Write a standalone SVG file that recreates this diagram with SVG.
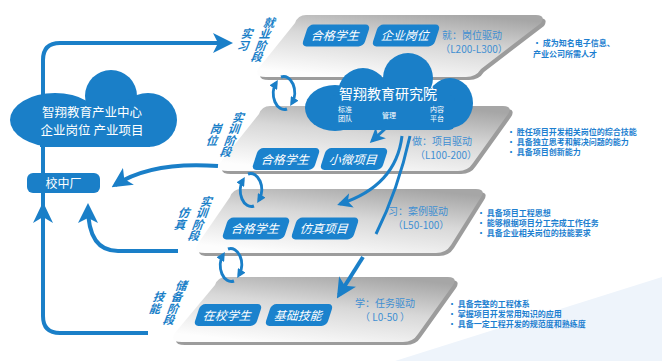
<svg xmlns="http://www.w3.org/2000/svg" width="662" height="361" viewBox="0 0 662 361">
<style>
.cjk{font-family:"Noto Sans CJK SC","Noto Sans",sans-serif}
.pill rect{fill:#1a82cd}
.pill text{fill:#fff;font-size:12px;text-anchor:middle;font-family:"Noto Sans CJK SC",sans-serif}
.plat{fill:url(#pg)}
.shadow{fill:#9c9c9c}
.drv{fill:#3f8fd2;font-size:10px;font-family:"Noto Sans CJK SC",sans-serif}
.rng{fill:#3f8fd2;font-size:10px;text-anchor:middle;font-family:"Noto Sans CJK SC",sans-serif}
.bul{fill:#1d7fd0;font-size:8px;font-weight:bold;font-family:"Noto Sans CJK SC",sans-serif}
.stg{fill:#1a7fc8;font-size:11.5px;font-weight:bold;text-anchor:middle;font-family:"Noto Sans CJK SC",sans-serif}
.ln{fill:none;stroke:#1a7fc8;stroke-width:4}
.ln3{fill:none;stroke:#1a7fc8;stroke-width:3}
.cyc{fill:none;stroke:#1a7fc8;stroke-width:3}
.cloud{fill:#1a7fc8}
</style>
<defs>
<linearGradient id="pg" x1="0.75" y1="0" x2="0.3" y2="1">
<stop offset="0" stop-color="#a6a6a6"/>
<stop offset="0.45" stop-color="#d8d8d8"/>
<stop offset="1" stop-color="#fdfdfd"/>
</linearGradient>
<marker id="ah" markerUnits="userSpaceOnUse" markerWidth="20" markerHeight="20" viewBox="0 0 20 20" refX="16" refY="10" orient="auto">
<path d="M0,0 L20,10 L0,20 L5,10 Z" fill="#1a7fc8"/>
</marker>
<marker id="am" markerUnits="userSpaceOnUse" markerWidth="15" markerHeight="15" viewBox="0 0 20 20" refX="16" refY="10" orient="auto">
<path d="M0,0 L20,10 L0,20 L5,10 Z" fill="#1a7fc8"/>
</marker>
<marker id="as" markerUnits="userSpaceOnUse" markerWidth="9" markerHeight="9" viewBox="0 0 20 20" refX="12" refY="10" orient="auto">
<path d="M0,0 L20,10 L0,20 Z" fill="#1a7fc8"/>
</marker>
</defs>
<rect width="662" height="361" fill="#ffffff"/>
<polygon points="395,361 662,277 662,361" fill="#eef4fb"/>

<g id="stage-bottom">
<path class="shadow" transform="translate(3,3)" d="M226,277 L448,277 Q458,277 453,285 L418,334 Q413,342 403,342 L182,342 Q170,342 174,334 L215,285 Q218,277 226,277 Z"/>
<path class="plat" d="M226,277 L448,277 Q458,277 453,285 L418,334 Q413,342 403,342 L182,342 Q170,342 174,334 L215,285 Q218,277 226,277 Z"/>
<g class="pill" transform="translate(228,315) skewX(-18)"><rect x="-31" y="-11" width="62" height="22" rx="5"/><text y="4.5">在校学生</text></g>
<g class="pill" transform="translate(299,315) skewX(-18)"><rect x="-31" y="-11" width="62" height="22" rx="5"/><text y="4.5">基础技能</text></g>
<text class="drv" x="355" y="307">学：任务驱动</text>
<text class="rng" x="385" y="321">（ L0-50 ）</text>
<g class="stg" transform="translate(182,286) skewX(-20)"><text><tspan x="0" y="4">储</tspan><tspan x="0" y="15.5">备</tspan><tspan x="0" y="27">阶</tspan><tspan x="0" y="38.5">段</tspan><tspan x="-18" y="15.5">技</tspan><tspan x="-18" y="27">能</tspan></text></g>
<text class="bul" x="448" y="307">· 具备完整的工程体系</text>
<text class="bul" x="448" y="317">· 掌握项目开发常用知识的应用</text>
<text class="bul" x="448" y="327">·  具备一定工程开发的规范度和熟练度</text>
</g>

<g id="stage-sim">
<path class="shadow" transform="translate(3,3)" d="M241,189 L476,189 Q486,189 481,197 L451,245 Q446,253 436,253 L205,253 Q193,253 197,245 L230,197 Q233,189 241,189 Z"/>
<path class="plat" d="M241,189 L476,189 Q486,189 481,197 L451,245 Q446,253 436,253 L205,253 Q193,253 197,245 L230,197 Q233,189 241,189 Z"/>
<g class="pill" transform="translate(256,228.5) skewX(-18)"><rect x="-31" y="-11" width="62" height="22" rx="5"/><text y="4.5">合格学生</text></g>
<g class="pill" transform="translate(325,228.5) skewX(-18)"><rect x="-31" y="-11" width="62" height="22" rx="5"/><text y="4.5">仿真项目</text></g>
<text class="drv" x="388" y="215">习：案例驱动</text>
<text class="rng" x="421" y="229">（L50-100）</text>
<g class="stg" transform="translate(207,202) skewX(-20)"><text><tspan x="0" y="4">实</tspan><tspan x="0" y="15.5">训</tspan><tspan x="0" y="27">阶</tspan><tspan x="0" y="38.5">段</tspan><tspan x="-18" y="15.5">仿</tspan><tspan x="-18" y="27">真</tspan></text></g>
<text class="bul" x="477" y="216">· 具备项目工程思想</text>
<text class="bul" x="477" y="226">· 能够根据项目分工完成工作任务</text>
<text class="bul" x="477" y="236">· 具备企业相关岗位的技能要求</text>
</g>

<g id="stage-post">
<path class="shadow" transform="translate(3,3)" d="M270,106 L503,106 Q513,106 508,114 L473,163 Q468,171 458,171 L228,171 Q216,171 220,163 L259,114 Q262,106 270,106 Z"/>
<path class="plat" d="M270,106 L503,106 Q513,106 508,114 L473,163 Q468,171 458,171 L228,171 Q216,171 220,163 L259,114 Q262,106 270,106 Z"/>
<g class="pill" transform="translate(286,159) skewX(-18)"><rect x="-31" y="-11" width="62" height="22" rx="5"/><text y="4.5">合格学生</text></g>
<g class="pill" transform="translate(354,159) skewX(-18)"><rect x="-31" y="-11" width="62" height="22" rx="5"/><text y="4.5">小微项目</text></g>
<text class="drv" x="412" y="145">做：项目驱动</text>
<text class="rng" x="446" y="159">（L100-200）</text>
<g class="stg" transform="translate(239,118) skewX(-20)"><text><tspan x="0" y="4">实</tspan><tspan x="0" y="15.5">训</tspan><tspan x="0" y="27">阶</tspan><tspan x="0" y="38.5">段</tspan><tspan x="-18" y="15.5">岗</tspan><tspan x="-18" y="27">位</tspan></text></g>
<text class="bul" x="507" y="135">· 胜任项目开发相关岗位的综合技能</text>
<text class="bul" x="507" y="145">· 具备独立思考和解决问题的能力</text>
<text class="bul" x="507" y="155">· 具备项目创新能力</text>
</g>

<g id="stage-job">
<path class="shadow" transform="translate(3,3)" d="M306,15 L536,15 Q546,15 541,23 L481,69 Q476,77 466,77 L266,77 Q254,77 258,69 L295,23 Q298,15 306,15 Z"/>
<path class="plat" d="M306,15 L536,15 Q546,15 541,23 L481,69 Q476,77 466,77 L266,77 Q254,77 258,69 L295,23 Q298,15 306,15 Z"/>
<g class="pill" transform="translate(336,35.5) skewX(-18)"><rect x="-31" y="-11" width="62" height="22" rx="5"/><text y="4.5">合格学生</text></g>
<g class="pill" transform="translate(406,35.5) skewX(-18)"><rect x="-31" y="-11" width="62" height="22" rx="5"/><text y="4.5">企业岗位</text></g>
<text class="drv" x="442" y="39">就：岗位驱动</text>
<text class="rng" x="474" y="53">（L200-L300）</text>
<g class="stg" transform="translate(270,23) skewX(-20)"><text><tspan x="0" y="4">就</tspan><tspan x="0" y="15.5">业</tspan><tspan x="0" y="27">阶</tspan><tspan x="0" y="38.5">段</tspan><tspan x="-18" y="15.5">实</tspan><tspan x="-18" y="27">习</tspan></text></g>
<text class="bul" x="533" y="46">· 成为知名电子信息、</text>
<text class="bul" x="533" y="57">产业公司所需人才</text>
</g>

<g id="connectors">
<path class="ln" d="M148,333 L60,333 Q43,333 43,316 L43,60 Q43,43 60,43 L229,43" marker-end="url(#ah)"/>
<polygon points="43,202 33,223 43,217 53,223" fill="#1a7fc8"/>
<path class="ln" d="M218,166 Q152,161 115,185" marker-end="url(#ah)"/>
<path class="ln" d="M178,251 L118,251 Q88,251 88,207" marker-end="url(#ah)"/>
<path class="ln3" d="M386,128 L372,141" marker-end="url(#am)"/>
<path class="ln3" d="M402,136 Q396,186 340,204" marker-end="url(#am)"/>
<path class="ln3" d="M410,136 Q398,190 376,234"/>
<path class="ln" d="M363,257 L339,295" marker-end="url(#ah)"/>
<g transform="translate(284,93)">
<path class="cyc" d="M3,16 A11,16 0 0 1 -8,-10" marker-end="url(#as)"/>
<path class="cyc" d="M-3,-16 A11,16 0 0 1 8,10" marker-end="url(#as)"/>
</g>
<g transform="translate(251,190)">
<path class="cyc" d="M3,16 A11,16 0 0 1 -8,-10" marker-end="url(#as)"/>
<path class="cyc" d="M-3,-16 A11,16 0 0 1 8,10" marker-end="url(#as)"/>
</g>
<g transform="translate(231,265)">
<path class="cyc" d="M3,16 A11,16 0 0 1 -8,-10" marker-end="url(#as)"/>
<path class="cyc" d="M-3,-16 A11,16 0 0 1 8,10" marker-end="url(#as)"/>
</g>
</g>

<g id="industry-center">
<g class="cloud">
<ellipse cx="55" cy="120" rx="45" ry="27"/>
<circle cx="111" cy="96" r="26"/>
<ellipse cx="148" cy="120" rx="29" ry="27"/>
<rect x="40" y="105" width="110" height="42"/>
</g>
<text class="cjk" x="92" y="117" fill="#fff" font-size="12.5" text-anchor="middle">智翔教育产业中心</text>
<text class="cjk" x="92" y="135" fill="#fff" font-size="12.5" text-anchor="middle">企业岗位 产业项目</text>
</g>

<g id="research-institute">
<g class="cloud">
<ellipse cx="335" cy="108" rx="30" ry="23"/>
<circle cx="363" cy="93" r="25"/>
<circle cx="408" cy="78" r="25"/>
<ellipse cx="450" cy="103" rx="23" ry="25"/>
<rect x="330" y="95" width="125" height="35" rx="6"/>
</g>
<text class="cjk" x="388" y="99" fill="#fff" font-size="14" text-anchor="middle">智翔教育研究院</text>
<g class="cjk" fill="#fff" font-size="7" text-anchor="middle">
<text x="345" y="112">标准</text><text x="345" y="121">团队</text>
<text x="389" y="118">管理</text>
<text x="437" y="112">内容</text><text x="437" y="121">平台</text>
</g>
</g>

<g id="school-factory">
<rect x="27" y="173" width="73" height="20" rx="6" fill="#1a7fc8"/>
<text class="cjk" x="63.5" y="187.5" fill="#fff" font-size="12" text-anchor="middle">校中厂</text>
</g>
</svg>
